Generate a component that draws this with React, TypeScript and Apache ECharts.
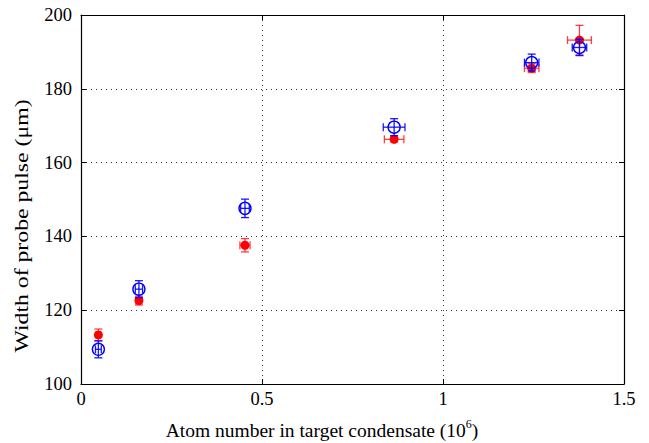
import React, { useEffect, useRef } from "react";
import * as echarts from "echarts";

const xTicks = [0, 0.5, 1, 1.5];
const yTicks = [100, 120, 140, 160, 180, 200];

const redX = [0.048, 0.16, 0.453, 0.865, 1.245, 1.377];
const redY = [113.3, 122.6, 137.6, 166.3, 185.6, 193.2];
const redXErr = [0.006, 0.008, 0.014, 0.027, 0.02, 0.033];
const redYErr = [1.6, 1.2, 1.8, 0.7, 1.2, 4.0];

const blueX = [0.048, 0.16, 0.453, 0.865, 1.245, 1.377];
const blueY = [109.4, 125.7, 147.6, 169.6, 187.1, 191.2];
const blueXErr = [0.008, 0.01, 0.012, 0.03, 0.02, 0.02];
const blueYErr = [2.3, 2.3, 2.5, 2.3, 2.3, 2.2];

const xTitle = "Atom number in target condensate (10";
const xTitleSup = "6";
const xTitleEnd = ")";
const yTitle = "Width of probe pulse (μm)";

const FONT = "Liberation Serif";

function errorRender(color: string, opacity: number) {
  return (params: any, api: any) => {
    const x = api.value(0);
    const y = api.value(1);
    const xe = api.value(2);
    const ye = api.value(3);
    const top = api.coord([x, y + ye]);
    const bot = api.coord([x, y - ye]);
    const lft = api.coord([x - xe, y]);
    const rgt = api.coord([x + xe, y]);
    const c = 4;
    const style = { stroke: color, lineWidth: 1.3, opacity };
    const ln = (x1: number, y1: number, x2: number, y2: number) => ({
      type: "line",
      shape: { x1, y1, x2, y2 },
      style,
    });
    return {
      type: "group",
      children: [
        ln(top[0], top[1], bot[0], bot[1]),
        ln(top[0] - c, top[1], top[0] + c, top[1]),
        ln(bot[0] - c, bot[1], bot[0] + c, bot[1]),
        ln(lft[0], lft[1], rgt[0], rgt[1]),
        ln(lft[0], lft[1] - c, lft[0], lft[1] + c),
        ln(rgt[0], rgt[1] - c, rgt[0], rgt[1] + c),
      ],
    };
  };
}

export default function App() {
  const ref = useRef<HTMLDivElement>(null);
  useEffect(() => {
    document.body.style.margin = "0";
    const chart = echarts.init(ref.current!, null, { renderer: "svg" });
    const redErr = redX.map((x, i) => [x, redY[i], redXErr[i], redYErr[i]]);
    const blueErr = blueX.map((x, i) => [x, blueY[i], blueXErr[i], blueYErr[i]]);
    const axisLabel = { color: "#000", fontFamily: FONT, fontSize: 18.5 };
    chart.setOption({
      animation: false,
      backgroundColor: "#fff",
      grid: {
        left: 81,
        right: 25,
        top: 15,
        bottom: 59,
        containLabel: false,
        outerBoundsMode: "none",
      },
      graphic: [
        {
          type: "text",
          x: 22,
          y: 226,
          rotation: Math.PI / 2,
          scaleX: 1.25,
          style: {
            text: yTitle,
            fontFamily: FONT,
            fontSize: 19,
            fill: "#000",
            align: "center",
            verticalAlign: "middle",
          },
        },
        {
          type: "text",
          x: 322,
          y: 430,
          style: {
            text: "{a|" + xTitle + "}{s|" + xTitleSup + "}{a|" + xTitleEnd + "}",
            align: "center",
            verticalAlign: "middle",
            rich: {
              a: { fontFamily: FONT, fontSize: 19.5, fill: "#000" },
              s: { fontFamily: FONT, fontSize: 12, fill: "#000", padding: [0, 0, 12, 0] },
            },
          },
        },
      ],
      xAxis: [
        {
          type: "value",
          min: 0,
          max: 1.5,
          interval: 0.5,
          axisLine: { show: true, onZero: false, lineStyle: { color: "#000", width: 1.2 } },
          axisTick: { show: true, inside: true, length: 5, lineStyle: { color: "#000" } },
          axisLabel: {
            ...axisLabel,
            margin: 5,
            formatter: (v: number) => (xTicks.includes(v) ? String(v) : ""),
          },
          splitLine: { show: true, lineStyle: { type: [1, 4], color: "#333", width: 1 } },
        },
        {
          type: "value",
          position: "top",
          min: 0,
          max: 1.5,
          interval: 0.5,
          axisLine: { show: true, onZero: false, lineStyle: { color: "#000", width: 1.2 } },
          axisTick: { show: true, inside: true, length: 5, lineStyle: { color: "#000" } },
          axisLabel: { show: false },
          splitLine: { show: false },
        },
      ],
      yAxis: [
        {
          type: "value",
          min: 100,
          max: 200,
          interval: 20,
          axisLine: { show: true, onZero: false, lineStyle: { color: "#000", width: 1.2 } },
          axisTick: { show: true, inside: true, length: 5, lineStyle: { color: "#000" } },
          axisLabel: {
            ...axisLabel,
            margin: 9,
            formatter: (v: number) => (yTicks.includes(v) ? String(v) : ""),
          },
          splitLine: { show: true, lineStyle: { type: [1, 4], color: "#333", width: 1 } },
        },
        {
          type: "value",
          position: "right",
          min: 100,
          max: 200,
          interval: 20,
          axisLine: { show: true, onZero: false, lineStyle: { color: "#000", width: 1.2 } },
          axisTick: { show: true, inside: true, length: 5, lineStyle: { color: "#000" } },
          axisLabel: { show: false },
          splitLine: { show: false },
        },
      ],
      series: [
        {
          type: "custom",
          renderItem: errorRender("#ff0000", 0.75),
          data: redErr,
          encode: { x: 0, y: 1 },
          z: 2,
        },
        {
          type: "scatter",
          data: redX.map((x, i) => [x, redY[i]]),
          symbol: "circle",
          symbolSize: 9,
          itemStyle: { color: "#ff0000", opacity: 1 },
          z: 3,
        },
        {
          type: "custom",
          renderItem: errorRender("#0000ff", 0.9),
          data: blueErr,
          encode: { x: 0, y: 1 },
          z: 4,
        },
        {
          type: "scatter",
          data: blueX.map((x, i) => [x, blueY[i]]),
          symbol: "circle",
          symbolSize: 12,
          itemStyle: { color: "none", borderColor: "#0000ff", borderWidth: 1.4, opacity: 1 },
          z: 5,
        },
      ],
    });
    return () => chart.dispose();
  }, []);
  return (
    <div
      ref={ref}
      style={{ position: "absolute", left: 0, top: 0, width: 649, height: 443 }}
    />
  );
}
